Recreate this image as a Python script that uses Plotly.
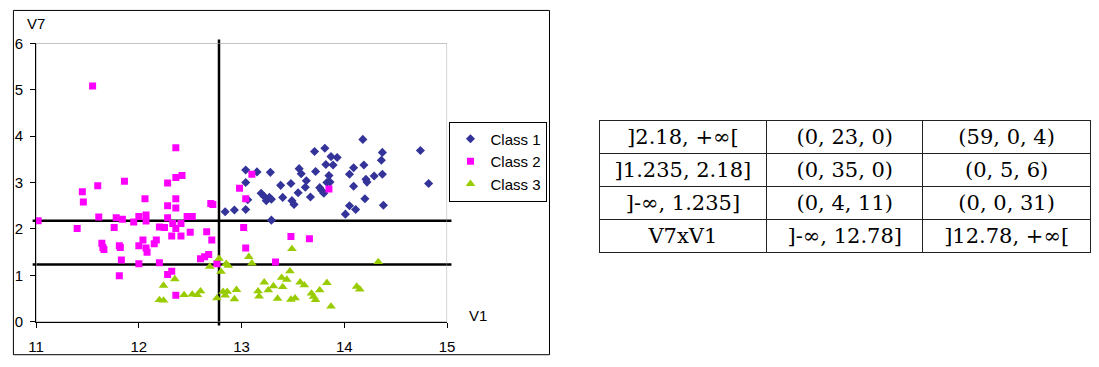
import plotly.graph_objects as go

# ---------------- data ----------------
class1_v1 = [12.84, 12.93, 13.04, 13.06, 13.04, 13.04, 13.15, 13.28, 13.29, 13.19,
             13.22, 13.24, 13.27, 13.29, 13.38, 13.48, 13.40, 13.49, 13.51, 13.55,
             13.56, 13.58, 14.18, 13.71, 13.81, 13.87, 13.93, 13.82, 13.89, 14.37,
             14.36, 14.74, 14.09, 14.19, 13.72, 13.85, 14.05, 14.21, 14.22, 14.29,
             14.37, 14.82, 14.09, 14.20, 14.38, 14.05, 14.11, 14.01, 13.83, 13.86,
             13.63, 13.62, 13.76, 13.78, 13.80, 13.67]
class1_v7 = [2.37, 2.41, 2.42, 2.63, 3.00, 3.27, 3.23, 3.22, 2.19, 2.77,
             2.70, 2.61, 2.68, 2.64, 2.94, 2.98, 2.68, 2.61, 2.53, 2.78,
             3.30, 3.19, 3.93, 3.67, 3.74, 3.56, 3.54, 3.39, 3.38, 3.65,
             3.48, 3.69, 3.32, 3.38, 3.24, 3.15, 3.18, 3.07, 3.01, 3.14,
             3.18, 2.98, 2.92, 2.65, 2.51, 2.50, 2.42, 2.32, 3.00, 3.01,
             3.04, 2.90, 2.89, 2.83, 2.77, 2.69]

class2_v1 = [11.55, 12.36, 11.86, 12.28, 12.36, 12.42, 11.60, 11.45, 11.46, 12.06,
             12.28, 11.02, 11.61, 11.78, 11.84, 11.95, 12.00, 12.07, 12.07, 12.36,
             12.36, 12.28, 12.33, 12.41, 12.36, 12.47, 12.52, 11.40, 11.76, 12.20,
             12.25, 12.32, 12.41, 12.50, 12.66, 12.71, 12.70, 12.72, 11.64, 11.65,
             11.66, 11.81, 11.82, 12.00, 12.04, 12.07, 12.08, 12.15, 12.17, 11.83,
             12.00, 12.20, 11.81, 12.28, 12.32, 12.36, 12.60, 12.64, 12.68, 12.76,
             13.10, 12.98, 13.04, 13.02, 13.48, 13.04, 13.33, 13.85, 13.66]
class2_v7 = [5.08, 3.75, 3.03, 2.99, 3.11, 3.15, 2.93, 2.80, 2.58, 2.65,
             2.50, 2.18, 2.26, 2.24, 2.21, 2.15, 2.27, 2.30, 2.17, 2.65,
             2.45, 2.24, 2.12, 2.12, 2.01, 2.27, 2.27, 2.01, 2.03, 2.04,
             2.03, 1.85, 1.85, 1.93, 1.94, 1.76, 2.55, 2.53, 1.69, 1.60,
             1.56, 1.64, 1.60, 1.64, 1.76, 1.59, 1.50, 1.68, 1.76, 1.33,
             1.25, 1.27, 0.99, 1.02, 1.09, 0.57, 1.36, 1.40, 1.45, 1.25,
             3.18, 2.88, 2.65, 2.03, 1.84, 1.59, 1.29, 2.86, 1.79]

class3_v1 = [12.24, 12.35, 12.20, 12.24, 12.44, 12.52, 12.57, 12.60, 12.69, 12.78,
             12.80, 12.85, 12.87, 12.76, 12.82, 12.86, 12.84, 12.93, 12.95, 13.07,
             13.10, 13.16, 13.17, 13.22, 13.26, 13.31, 13.35, 13.39, 13.40, 13.44,
             13.47, 13.49, 13.48, 13.52, 13.57, 13.61, 13.68, 13.70, 13.72, 13.76,
             13.83, 13.87, 14.12, 14.15, 14.33]
class3_v7 = [0.78, 0.92, 0.47, 0.46, 0.58, 0.59, 0.58, 0.66, 1.19, 1.36,
             1.08, 1.25, 1.21, 0.51, 0.65, 0.65, 0.57, 0.49, 0.69, 1.40,
             1.26, 0.66, 0.55, 0.85, 0.68, 0.77, 0.50, 0.95, 0.75, 0.91,
             1.09, 1.57, 0.48, 0.51, 0.85, 0.79, 0.61, 0.54, 0.47, 0.68,
             0.84, 0.33, 0.76, 0.70, 1.29]

class_names = ["Class 1", "Class 2", "Class 3"]
v1_splits = [12.78]
v7_splits = [2.18, 1.235]

x_ticks = [11, 12, 13, 14, 15]
y_ticks = [0, 1, 2, 3, 4, 5, 6]

table_col1 = ["]2.18, +∞[", "]1.235, 2.18]", "]-∞, 1.235]", "V7xV1"]
table_col2 = ["(0, 23, 0)", "(0, 35, 0)", "(0, 4, 11)", "]-∞, 12.78]"]
table_col3 = ["(59, 0, 4)", "(0, 5, 6)", "(0, 0, 31)", "]12.78, +∞["]

# ---------------- layout helpers (pixels -> paper) ----------------
W, H = 1099, 367
def px(p):
    return p / W
def py(p):
    return 1 - p / H

FONT = "Liberation Sans, Arial, sans-serif"

fig = go.Figure()

fig.add_trace(go.Scatter(x=class1_v1, y=class1_v7, mode="markers", name=class_names[0],
                         marker=dict(symbol="diamond", size=7, color="#333399", line=dict(width=0))))
fig.add_trace(go.Scatter(x=class2_v1, y=class2_v7, mode="markers", name=class_names[1],
                         marker=dict(symbol="square", size=7, color="#FF00FF", line=dict(width=0))))
fig.add_trace(go.Scatter(x=class3_v1, y=class3_v7, mode="markers", name=class_names[2],
                         marker=dict(symbol="triangle-up", size=8.5, color="#99CC00", line=dict(width=0))))

# table
fig.add_trace(go.Table(
    domain=dict(x=[px(600), 1.0], y=[0.2, py(116.7)]),
    columnwidth=[170, 159, 170],
    header=dict(values=[table_col1[0], table_col2[0], table_col3[0]],
                line=dict(color="#222222", width=1), fill=dict(color="white"),
                font=dict(family="DejaVu Serif", size=21, color="black"),
                align="center", height=33),
    cells=dict(values=[table_col1[1:], table_col2[1:], table_col3[1:]],
               line=dict(color="#222222", width=1), fill=dict(color="white"),
               font=dict(family="DejaVu Serif", size=21, color="black"),
               align="center", height=33),
))

shapes = []
# chart frame
shapes.append(dict(type="rect", xref="paper", yref="paper",
                   x0=px(5.5), x1=px(549.5), y0=py(362.5), y1=py(1.5),
                   line=dict(color="black", width=1), layer="below"))
# plot area border (gray)
shapes.append(dict(type="rect", xref="x", yref="y",
                   x0=x_ticks[0], x1=x_ticks[-1], y0=y_ticks[0], y1=y_ticks[-1],
                   line=dict(color="#a0a0a0", width=1), layer="below"))
# split lines
for xv in v1_splits:
    shapes.append(dict(type="line", xref="x", yref="paper", x0=xv, x1=xv,
                       y0=py(332), y1=py(32), line=dict(color="black", width=2.5), layer="below"))
for yv in v7_splits:
    shapes.append(dict(type="line", xref="paper", yref="y", x0=px(25), x1=px(450),
                       y0=yv, y1=yv, line=dict(color="black", width=2.5), layer="below"))

fig.update_layout(
    width=W, height=H,
    margin=dict(l=0, r=0, t=0, b=0),
    paper_bgcolor="white", plot_bgcolor="white",
    font=dict(family=FONT, size=15, color="black"),
    showlegend=True,
    legend=dict(x=px(448), y=py(118), xanchor="left", yanchor="top",
                bordercolor="black", borderwidth=1, bgcolor="white",
                font=dict(family=FONT, size=15, color="black"),
                tracegroupgap=0),
    shapes=shapes,
    xaxis=dict(domain=[px(28.5), px(445.6)], range=[x_ticks[0], x_ticks[-1]],
               tickvals=x_ticks, showgrid=False, zeroline=False,
               showline=True, linecolor="black", linewidth=1,
               ticks="outside", ticklen=5, tickcolor="black",
               tickfont=dict(family=FONT, size=15), ticklabelstandoff=6),
    yaxis=dict(domain=[py(328), py(36)], range=[y_ticks[0], y_ticks[-1]],
               tickvals=y_ticks, showgrid=False, zeroline=False,
               showline=True, linecolor="black", linewidth=1,
               ticks="outside", ticklen=5, tickcolor="black",
               tickfont=dict(family=FONT, size=15), ticklabelstandoff=4),
    annotations=[
        dict(text="V7", xref="paper", yref="paper", x=px(28), y=py(15.5),
             xanchor="center", yanchor="middle", showarrow=False,
             font=dict(family=FONT, size=15)),
        dict(text="V1", xref="paper", yref="paper", x=px(466), y=py(321),
             xanchor="left", yanchor="middle", showarrow=False,
             font=dict(family=FONT, size=15)),
    ],
)

fig.write_html(
    "out.html",
    config={"displayModeBar": False},
    post_script="document.documentElement.style.margin='0';document.body.style.margin='0';"
                "document.body.style.padding='0';document.body.style.overflow='hidden';",
)
